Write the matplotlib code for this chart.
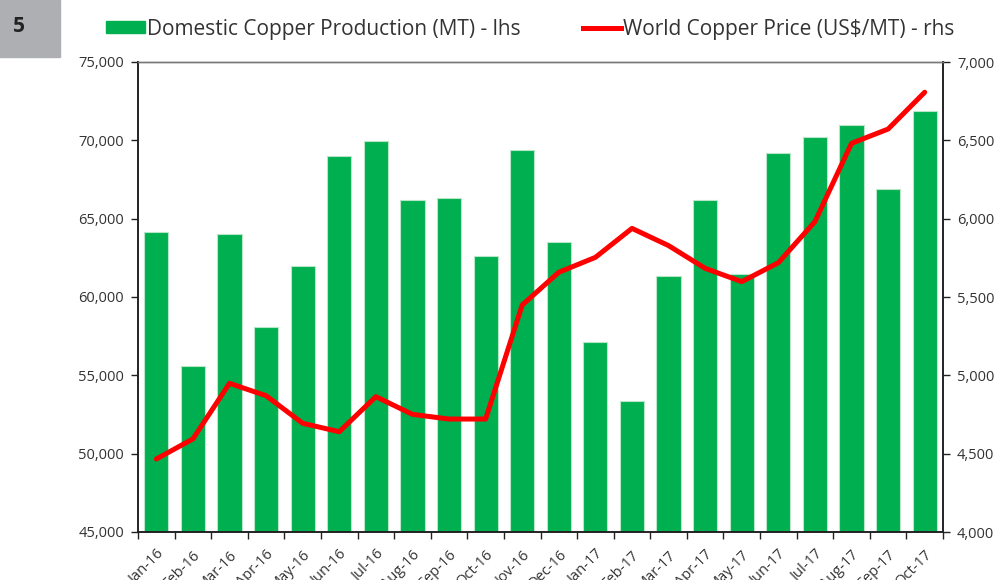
import matplotlib
matplotlib.use("Agg")
import matplotlib.pyplot as plt
from matplotlib.ticker import FuncFormatter, FixedLocator
from matplotlib.patches import Rectangle
from matplotlib.lines import Line2D

plt.rcParams["font.family"] = ["Open Sans", "DejaVu Sans"]

months = ["Jan-16", "Feb-16", "Mar-16", "Apr-16", "May-16", "Jun-16", "Jul-16",
          "Aug-16", "Sep-16", "Oct-16", "Nov-16", "Dec-16", "Jan-17", "Feb-17",
          "Mar-17", "Apr-17", "May-17", "Jun-17", "Jul-17", "Aug-17", "Sep-17",
          "Oct-17"]
production = [64150, 55600, 64020, 58090, 61980, 69000, 69960, 66190, 66320,
              62620, 69380, 63510, 57130, 53370, 61320, 66210, 61470, 69190,
              70190, 70980, 66870, 71870]
price = [4466, 4594, 4949, 4870, 4694, 4640, 4864, 4751, 4721, 4721, 5449,
         5658, 5753, 5938, 5828, 5683, 5598, 5719, 5981, 6481, 6572, 6807]

GREEN = "#00B050"
RED = "#FF0000"
TXT = "#333333"

fig = plt.figure(figsize=(9.96, 5.8), dpi=100)
ax = fig.add_axes([138 / 996, 1 - 532 / 580, (943 - 138) / 996, (532 - 62) / 580])
ax2 = ax.twinx()

x = list(range(len(months)))
ax.bar(x, production, width=0.66, color=GREEN, edgecolor="#b8e6c8",
       linewidth=0.8)
ax.set_ylim(45000, 75000)
ax.set_xlim(-0.5, len(months) - 0.5)
ax.set_yticks(range(45000, 75001, 5000))
fmt = FuncFormatter(lambda v, p: f"{int(v):,}")
ax.yaxis.set_major_formatter(fmt)

ax2.plot(x, price, color=RED, linewidth=3.6, solid_capstyle="round",
         solid_joinstyle="round")
ax2.set_ylim(4000, 7000)
ax2.set_yticks(range(4000, 7001, 500))
ax2.yaxis.set_major_formatter(fmt)

# category labels centred, tick marks on boundaries
ax.set_xticks(x)
ax.set_xticklabels(months, rotation=45, ha="right", rotation_mode="anchor",
                   fontsize=10.5, color=TXT)
ax.tick_params(axis="x", which="major", length=0, pad=11)
ax.xaxis.set_minor_locator(FixedLocator([i - 0.5 for i in range(len(months) + 1)]))
ax.tick_params(axis="x", which="minor", length=5, width=1, color="#222222")

ax.tick_params(axis="y", length=5, width=1, color="#222222", labelsize=10.5,
               labelcolor=TXT, pad=5)
ax2.tick_params(axis="y", length=5, width=1, color="#222222", labelsize=10.5,
                labelcolor=TXT, pad=5)

for a in (ax, ax2):
    a.spines["top"].set_color("#777777")
    a.spines["top"].set_linewidth(1)
    for side in ("left", "right", "bottom"):
        a.spines[side].set_color("#222222")
        a.spines[side].set_linewidth(1.2)

# grey badge with number
fig.patches.append(Rectangle((0, 1 - 57 / 580), 60 / 996, 57 / 580,
                             transform=fig.transFigure, color="#ADAFB2",
                             zorder=0))
fig.text(19 / 996, 1 - 27 / 580, "5", fontsize=15, fontweight="bold",
         color="#222222", ha="center", va="center")

# legend
handles = [Rectangle((0, 0), 1, 1, color=GREEN),
           Line2D([], [], color=RED, linewidth=3.6)]
fig.legend(handles, ["Domestic Copper Production (MT) - lhs",
                     "World Copper Price (US$/MT) - rhs"],
           loc="center left", bbox_to_anchor=(106 / 996, 1 - 29 / 580),
           ncol=2, frameon=False, fontsize=15, handlelength=1.85,
           handleheight=0.5, handletextpad=0.1, columnspacing=3.0,
           labelcolor=TXT, borderpad=0, borderaxespad=0)

fig.savefig("out.png", dpi=100)
